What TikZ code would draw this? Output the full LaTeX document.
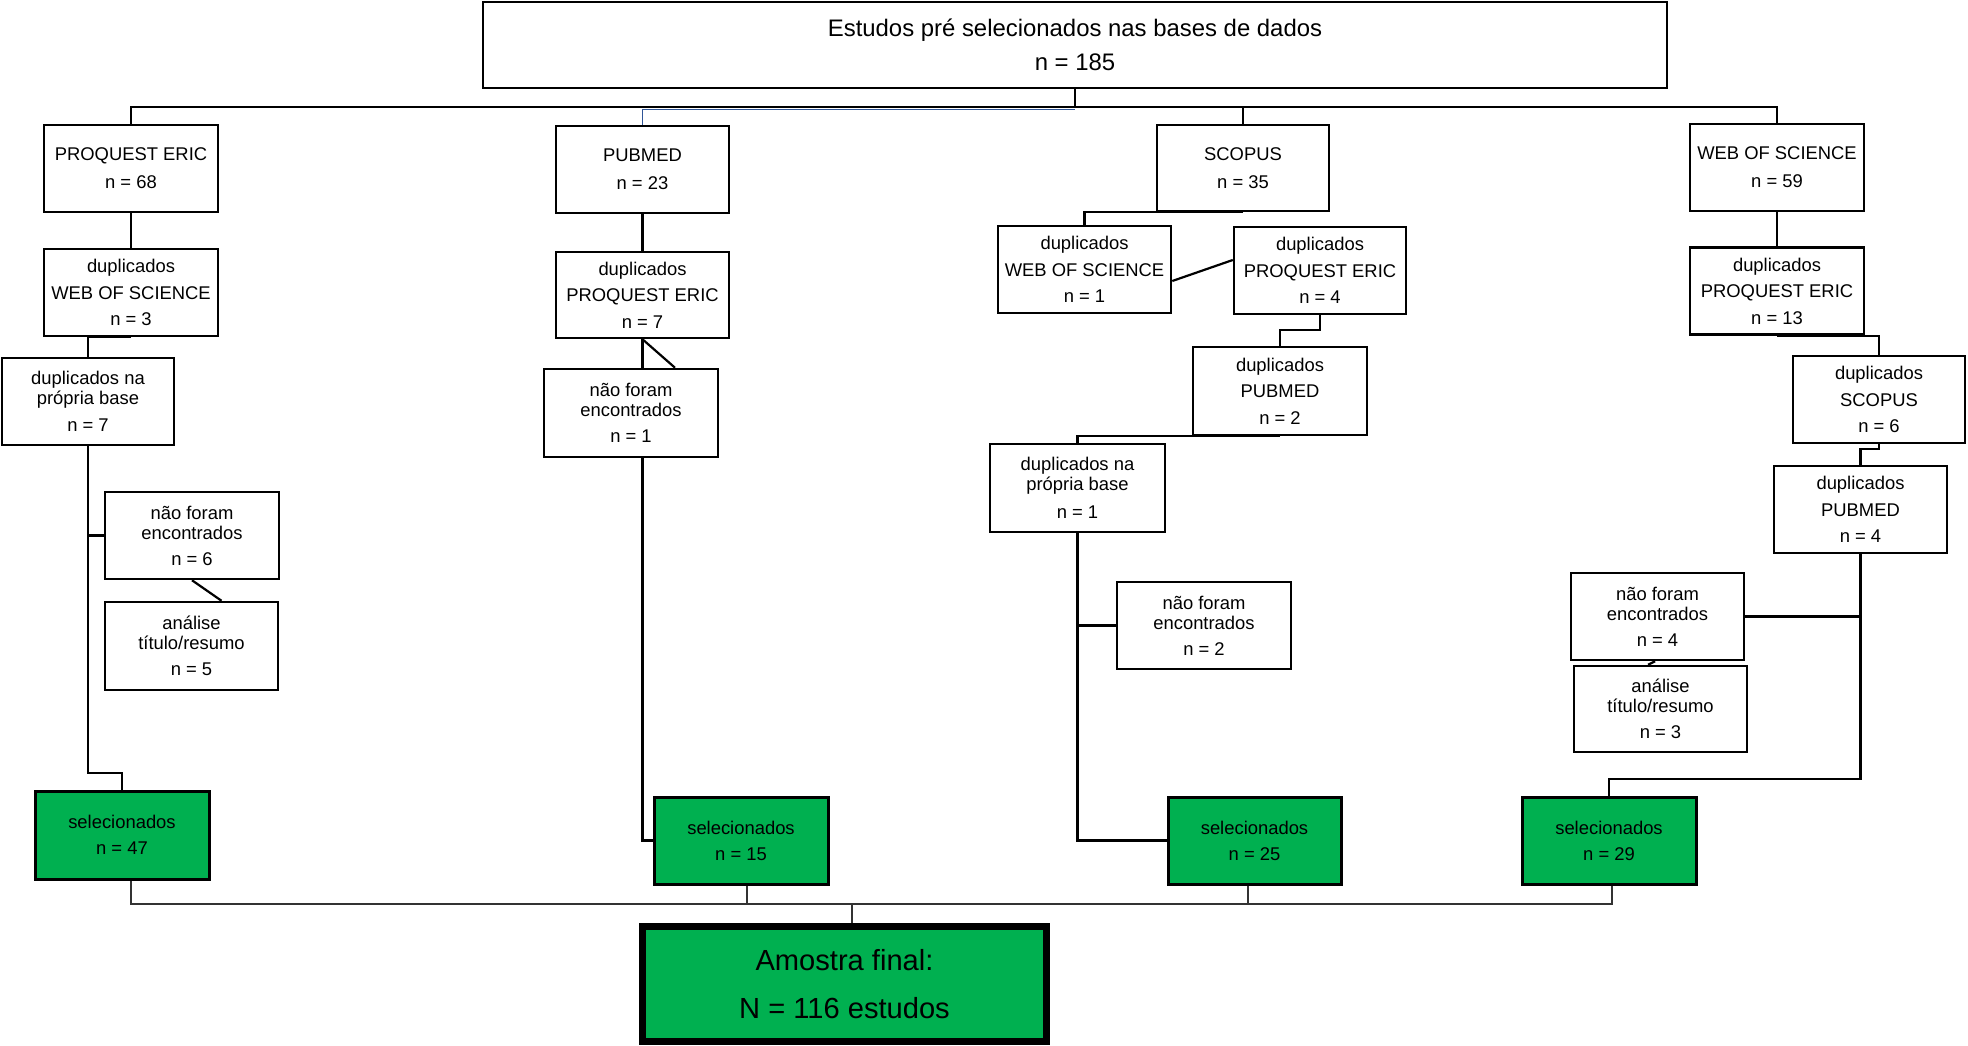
\documentclass[tikz,border=0pt]{standalone}
\usepackage{fontspec}
\setmainfont{Liberation Sans}
\usetikzlibrary{backgrounds}
\definecolor{selgreen}{RGB}{0,176,80}
\definecolor{busblue}{RGB}{47,85,151}
\begin{document}
\begin{tikzpicture}[x=1pt,y=-1pt,
 box/.style={draw, line width=2.5pt, fill=white, align=center, inner sep=0pt, font=\fontsize{18.4}{20}\selectfont},
 wh/.style 2 args={minimum width=#1pt, minimum height=#2pt},
 sel/.style={box, fill=selgreen, line width=3pt},
 conn/.style={line width=2.2pt},
 thinconn/.style={line width=1.3pt, black!80},
 blueconn/.style={line width=1.6pt, busblue}]
\useasboundingbox (0,0) rectangle (1968,1045);

\node[box, wh={1184}{86}, font=\fontsize{23.9}{34}\selectfont] (top) at (1075,45) {Estudos pré selecionados nas bases de dados\\n = 185};

% column 1
\node[box, wh={174}{87}] (pe1) at (131,168.5) {PROQUEST ERIC\\[8pt]n = 68};
\node[box, wh={174}{87}] (dw1) at (131,292.5) {duplicados\\[6.5pt]WEB OF SCIENCE\\[6.5pt]n = 3};
\node[box, wh={172}{87}] (db1) at (88,401.5) {duplicados na\\própria base\\[7.5pt]n = 7};
\node[box, wh={174}{87}] (nf1) at (192,535.5) {não foram\\encontrados\\[6pt]n = 6};
\node[box, wh={173}{88}] (an1) at (191.5,646) {análise\\título/resumo\\[6pt]n = 5};
\node[sel, wh={174}{88}] (sel1) at (122,835) {selecionados\\[6pt]n = 47};

% column 2
\node[box, wh={173}{87}] (pb2) at (642.5,169.5) {PUBMED\\[8pt]n = 23};
\node[box, wh={173}{86}] (dpe2) at (642.5,295) {duplicados\\[6.5pt]PROQUEST ERIC\\[6.5pt]n = 7};
\node[box, wh={174}{88}] (nf2) at (631,413) {não foram\\encontrados\\[6pt]n = 1};
\node[sel, wh={174}{87}] (sel2) at (741,840.5) {selecionados\\[6pt]n = 15};

% column 3
\node[box, wh={172}{86}] (sc3) at (1243,168) {SCOPUS\\[8pt]n = 35};
\node[box, wh={173}{87}] (dw3) at (1084.5,269.5) {duplicados\\[6.5pt]WEB OF SCIENCE\\[6.5pt]n = 1};
\node[box, wh={172}{87}] (dpe3) at (1320,270.5) {duplicados\\[6.5pt]PROQUEST ERIC\\[6.5pt]n = 4};
\node[box, wh={174}{88}] (dpb3) at (1280,391) {duplicados\\[6.5pt]PUBMED\\[6.5pt]n = 2};
\node[box, wh={175}{88}] (db3) at (1077.5,488) {duplicados na\\própria base\\[7.5pt]n = 1};
\node[box, wh={174}{87}] (nf3) at (1204,625.5) {não foram\\encontrados\\[6pt]n = 2};
\node[sel, wh={173}{87}] (sel3) at (1254.5,840.5) {selecionados\\[6pt]n = 25};

% column 4
\node[box, wh={174}{87}] (ws4) at (1777,167.5) {WEB OF SCIENCE\\[8pt]n = 59};
\node[box, wh={174}{87}] (dpe4) at (1777,291) {duplicados\\[6.5pt]PROQUEST ERIC\\[6.5pt]n = 13};
\node[box, wh={172}{87}] (dsc4) at (1879,399.5) {duplicados\\[6.5pt]SCOPUS\\[6.5pt]n = 6};
\node[box, wh={173}{87}] (dpb4) at (1860.5,509.5) {duplicados\\[6.5pt]PUBMED\\[6.5pt]n = 4};
\node[box, wh={173}{87}] (nf4) at (1657.5,616.5) {não foram\\encontrados\\[6pt]n = 4};
\node[box, wh={173}{86}] (an4) at (1660.5,709) {análise\\título/resumo\\[6pt]n = 3};
\node[sel, wh={174}{87}] (sel4) at (1609,840.5) {selecionados\\[6pt]n = 29};

% final
\node[sel, line width=7pt, wh={404}{115}, font=\fontsize{29.1}{48}\selectfont] (fin) at (844.5,984) {Amostra final:\\N = 116 estudos};

\begin{scope}[on background layer]
\coordinate (bus) at (0,107);
\coordinate (blue) at (0,109.5);
\draw[conn] (top.south) -- (top.south |- bus);
\draw[conn] (pe1.north) -- (pe1.north |- bus) -- (ws4.north |- bus) -- (ws4.north);
\draw[conn] (sc3.north) -- (sc3.north |- bus);
\draw[blueconn] (pb2.north) -- (pb2.north |- blue) -- (top.south |- blue);

% column 1
\draw[conn] (pe1.south) -- (dw1.north);
\draw[conn] (dw1.south) -| (db1.north);
\coordinate (c1) at (88,773);
\draw[conn] (db1.south) -- (c1) -| (sel1.north);
\draw[conn] (nf1.west) -- (nf1.west -| db1.south);
\draw[conn] (nf1.south) -- ([xshift=30pt]an1.north);

% column 2
\draw[conn] (pb2.south) -- (dpe2.north);
\draw[conn] (dpe2.south) |- (sel2.west);
\draw[conn] (dpe2.south) -- ([xshift=44pt]nf2.north);

% column 3
\draw[conn] (sc3.south) -| (dw3.north);
\draw[conn] ([yshift=-11.5pt]dw3.east) -- ([yshift=10.5pt]dpe3.west);
\draw[conn] (dpe3.south) -- ++(0,15) -| (dpb3.north);
\draw[conn] (dpb3.south) -| (db3.north);
\draw[conn] (db3.south) |- (sel3.west);
\draw[conn] (nf3.west) -- (nf3.west -| db3.south);

% column 4
\draw[conn] (ws4.south) -- (dpe4.north);
\draw[conn] (dpe4.south) -| (dsc4.north);
\draw[conn] (dsc4.south) -- ++(0,5) -| (dpb4.north);
\coordinate (c4) at (1860.5,779);
\draw[conn] (dpb4.south) -- (c4) -| (sel4.north);
\draw[conn] (nf4.east) -- (nf4.east -| dpb4.south);
\draw[conn] ([xshift=-2.5pt]nf4.south) -- ([xshift=-12.5pt]an4.north);

% bottom
\coordinate (hb) at (0,904);
\coordinate (s1) at ([xshift=9pt]sel1.south);
\coordinate (s2) at ([xshift=6pt]sel2.south);
\coordinate (s3) at ([xshift=-6.5pt]sel3.south);
\coordinate (s4) at ([xshift=3pt]sel4.south);
\coordinate (sf) at ([xshift=7.5pt]fin.north);
\draw[thinconn] (s1) -- (s1 |- hb) -- (s4 |- hb) -- (s4);
\draw[thinconn] (s2) -- (s2 |- hb);
\draw[thinconn] (s3) -- (s3 |- hb);
\draw[thinconn] (sf) -- (sf |- hb);
\end{scope}
\end{tikzpicture}
\end{document}
